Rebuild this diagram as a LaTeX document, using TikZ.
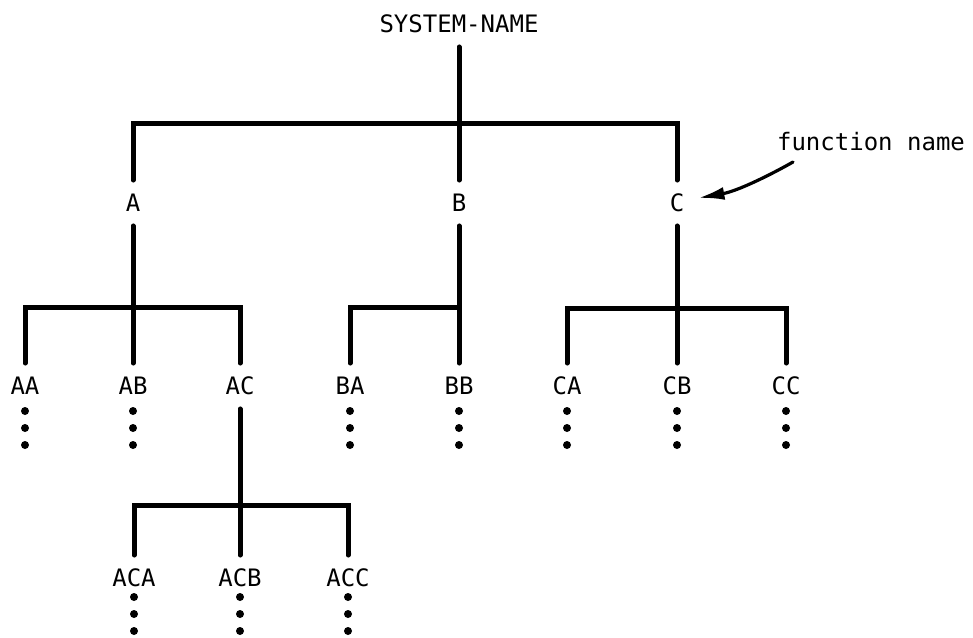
\documentclass[tikz,border=0pt]{standalone}
\usepackage{fontspec}
\setmainfont{DejaVu Sans Mono}
\usetikzlibrary{arrows.meta}
\begin{document}
\begin{tikzpicture}[x=1pt,y=-1pt,
  lbl/.style={font=\fontsize{24}{24}\selectfont, text height=17.5pt, text depth=0pt, inner xsep=1pt, inner ysep=14pt},
  fnlbl/.style={font=\fontsize{24}{24}\selectfont, inner sep=0pt, anchor=base},
  tree/.style={line width=5pt, line cap=round, line join=miter},
  dotmark/.style={fill=black},
  fnarrow/.style={line width=3.2pt, line cap=round, -{Latex[length=26pt,width=13pt]}}]
\useasboundingbox (0,0) rectangle (973,637);
% labels
\node[lbl] (SYS) at (459,24) {SYSTEM-NAME};
\node[lbl] (A) at (133,203) {A};
\node[lbl] (B) at (459,203) {B};
\node[lbl] (C) at (677,203) {C};
\node[lbl] (AA) at (25,386) {AA};
\node[lbl] (AB) at (133,386) {AB};
\node[lbl] (AC) at (240,386) {AC};
\node[lbl] (BA) at (350,386) {BA};
\node[lbl] (BB) at (459,386) {BB};
\node[lbl] (CA) at (567,386) {CA};
\node[lbl] (CB) at (677,386) {CB};
\node[lbl] (CC) at (786,386) {CC};
\node[lbl] (ACA) at (134,578) {ACA};
\node[lbl] (ACB) at (240,578) {ACB};
\node[lbl] (ACC) at (348,578) {ACC};
\node[fnlbl] (FN) at (871,150) {function name};
% junctions
\coordinate (j0) at (459,123);
\coordinate (jA) at (133,307);
\coordinate (jB) at (459,307);
\coordinate (jC) at (677,308);
\coordinate (jAC) at (240,505);
\coordinate (fnstart) at (793,162);
% tree
\draw[tree] (SYS) -- (j0);
\draw[tree] (A) |- (j0) -| (C);
\draw[tree] (B) -- (j0);
\draw[tree] (A) -- (jA);
\draw[tree] (AA) |- (jA) -| (AC);
\draw[tree] (AB) -- (jA);
\draw[tree] (B) -- (jB);
\draw[tree] (BA) |- (jB) -- (BB);
\draw[tree] (C) -- (jC);
\draw[tree] (CA) |- (jC) -| (CC);
\draw[tree] (CB) -- (jC);
\draw[tree] (AC) -- (jAC);
\draw[tree] (ACA) |- (jAC) -| (ACC);
\draw[tree] (ACB) -- (jAC);
% continuation dots
\foreach \x in {25,133,350,459,567,677,786}
  \foreach \y in {411,428,445}
    \fill[dotmark] (\x,\y) circle (4);
\foreach \x in {134,240,348}
  \foreach \y in {597,614,631}
    \fill[dotmark] (\x,\y) circle (4);
% pointer arrow
\draw[fnarrow] (fnstart) .. controls (772,174) and (738,191) .. ([shift={(13,-5)}]C.east);
\end{tikzpicture}
\end{document}
